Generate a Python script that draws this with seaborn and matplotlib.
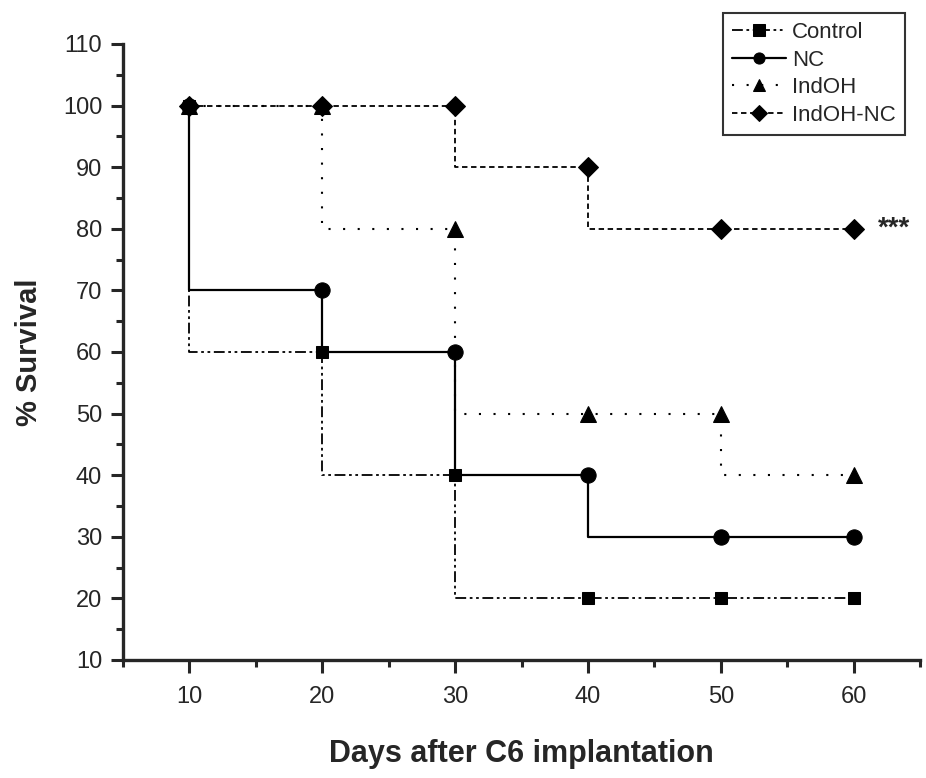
import matplotlib
matplotlib.use("Agg")
import matplotlib.pyplot as plt
import seaborn as sns
import numpy as np
from matplotlib.ticker import MultipleLocator

days = [10, 20, 30, 40, 50, 60]
control = [100, 60, 40, 20, 20, 20]
nc = [100, 70, 60, 40, 30, 30]
indoh = [100, 100, 80, 50, 50, 40]
indoh_nc = [100, 100, 100, 90, 80, 80]
series_names = ["Control", "NC", "IndOH", "IndOH-NC"]

sns.set_style("ticks")
plt.rcParams['font.family'] = ['Liberation Sans', 'DejaVu Sans']

fig = plt.figure(figsize=(9.26, 7.78), dpi=100)
ax = fig.add_axes([123/926, 1-660/778, (920-123)/926, (660-44)/778])

styles = [
    dict(linestyle=(0, (6, 2, 1.5, 2, 1.5, 2)), marker='s', markersize=9, lw=1.3),
    dict(linestyle='-', marker='o', markersize=11, lw=1.6),
    dict(linestyle=(0, (1, 6)), marker='^', markersize=11, lw=1.5),
    dict(linestyle=(0, (3, 2)), marker='D', markersize=10, lw=1.3),
]
for name, vals, st in zip(series_names, [control, nc, indoh, indoh_nc], styles):
    sns.lineplot(x=days, y=vals, ax=ax, color='black', drawstyle='steps-pre',
                 label=name, markeredgecolor='black', markerfacecolor='black', **st)

ax.set_xlim(5, 65)
ax.set_ylim(10, 110)
ax.xaxis.set_major_locator(MultipleLocator(10))
ax.xaxis.set_minor_locator(MultipleLocator(5))
ax.yaxis.set_major_locator(MultipleLocator(10))
ax.yaxis.set_minor_locator(MultipleLocator(5))
ax.tick_params(axis='both', which='major', length=9, width=2.2, labelsize=17, direction='out')
ax.tick_params(axis='both', which='minor', length=5, width=2.2, direction='out')
ax.tick_params(axis='x', pad=10)
ax.tick_params(axis='y', pad=6)
for s in ['left', 'bottom']:
    ax.spines[s].set_linewidth(2.4)
sns.despine(ax=ax)

ax.set_xlabel("Days after C6 implantation", fontsize=22, fontweight='bold', labelpad=22)
ax.set_ylabel("% Survival", fontsize=21, fontweight='bold', labelpad=14)

ax.text(61.8, 80, "***", fontsize=20, fontweight='bold', va='center', ha='left')

leg = ax.legend(loc='upper right', bbox_to_anchor=(905/926, 1-13/778), bbox_transform=fig.transFigure,
                frameon=True, fancybox=False, edgecolor='black', fontsize=16,
                handlelength=2.4, labelspacing=0.3, borderpad=0.4, handletextpad=0.3,
                borderaxespad=0)
leg.get_frame().set_linewidth(1.5)
for h in leg.legend_handles:
    h.set_markersize(8)

fig.savefig("out.png", dpi=100)
